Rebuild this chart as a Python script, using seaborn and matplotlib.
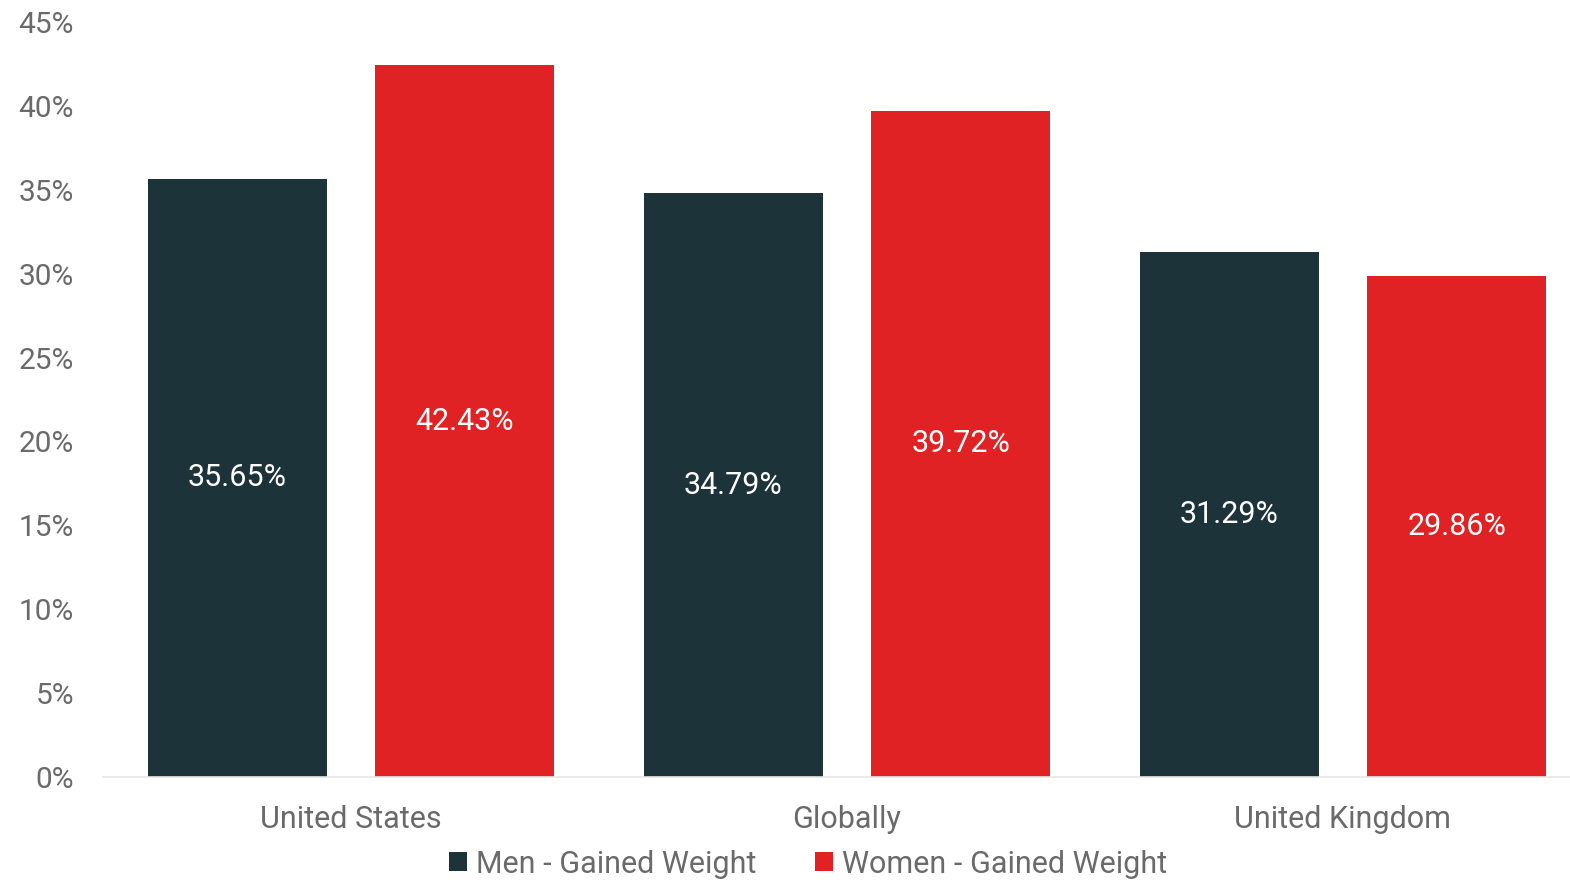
import matplotlib
matplotlib.use("Agg")
import matplotlib.pyplot as plt
import seaborn as sns
import pandas as pd
from matplotlib.patches import Patch

categories = ["United States", "Globally", "United Kingdom"]
men = [35.65, 34.79, 31.29]
women = [42.43, 39.72, 29.86]
series_names = ["Men - Gained Weight", "Women - Gained Weight"]
colors = ["#1d333a", "#e02224"]
yticks = [0, 5, 10, 15, 20, 25, 30, 35, 40, 45]

df = pd.DataFrame({
    "category": categories * 2,
    "series": [series_names[0]] * 3 + [series_names[1]] * 3,
    "value": men + women,
})

sns.set_theme(style="white")
plt.rcParams["font.family"] = ["Roboto", "DejaVu Sans"]

W, H = 1570, 880
fig = plt.figure(figsize=(W / 100, H / 100), dpi=100)
ax = fig.add_axes([103 / W, (H - 777) / H, (1591 - 103) / W, (777 - 22) / H])

sns.barplot(data=df, x="category", y="value", hue="series", order=categories,
            hue_order=series_names, palette=colors, width=0.917, gap=0.2115,
            saturation=1, ax=ax, legend=False, edgecolor="none")

ax.set_ylim(0, 45)
ax.set_yticks(yticks)
ax.set_yticklabels([f"{t}%" for t in yticks])
ax.set_xlabel("")
ax.set_ylabel("")
for s in ["top", "right", "left"]:
    ax.spines[s].set_visible(False)
ax.spines["bottom"].set_color("#e6e6e6")
ax.spines["bottom"].set_linewidth(1.2)
ax.tick_params(axis="y", length=0, pad=21, labelsize=21.5, labelcolor="#6a6a6a")
ax.tick_params(axis="x", length=0, pad=20, labelsize=22, labelcolor="#6a6a6a")

for cont in ax.containers:
    for bar in cont:
        h = bar.get_height()
        ax.text(bar.get_x() + bar.get_width() / 2, h / 2, f"{h:.2f}%",
                ha="center", va="center", color="white", fontsize=22)

handles = [Patch(facecolor=c, edgecolor="none") for c in colors]
fig.legend(handles, series_names, loc="center", bbox_to_anchor=(808 / W, 1 - 864 / H),
           ncol=2, frameon=False, fontsize=22, labelcolor="#6a6a6a",
           handlelength=0.6, handleheight=0.6, handletextpad=0.3, columnspacing=1.9)

fig.savefig("out.png", dpi=100)
